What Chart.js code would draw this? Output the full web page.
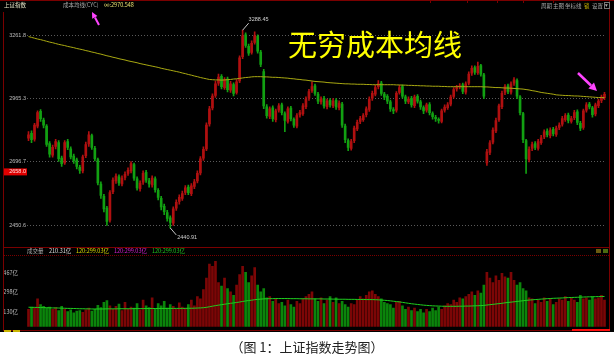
<!DOCTYPE html>
<html>
<head>
<meta charset="utf-8">
<script src="https://cdn.jsdelivr.net/npm/chart.js@4.4.1/dist/chart.umd.min.js"></script>
<style>
html, body { margin: 0; padding: 0; background: #fff; }
#wrap { position: relative; width: 614px; height: 360px; background: #fff; overflow: hidden; font-family: "Noto Sans CJK SC", "DejaVu Sans", sans-serif; }
#panel { position: absolute; left: 0; top: 0; width: 614px; height: 332px; background: #000; }
canvas { position: absolute; left: 0; }
.t { position: absolute; font-size: 5.5px; line-height: 6px; white-space: nowrap; }
.ln { position: absolute; background: #7a0000; }
</style>
</head>
<body>
<div id="wrap">
  <div id="panel">
    <canvas id="price" width="614" height="232" style="top:13px"></canvas>
    <canvas id="vol" width="614" height="75" style="top:256px"></canvas>

    <!-- frame -->
    <div class="ln" style="left:0;top:0;width:614px;height:1px"></div>
    <div class="ln" style="left:430px;top:0;width:1px;height:3px"></div>
    <div class="ln" style="left:467px;top:0;width:1px;height:3px"></div>
    <div class="ln" style="left:497px;top:0;width:1px;height:3px"></div>
    <div class="ln" style="left:523px;top:0;width:1px;height:3px"></div>
    <div class="ln" style="left:553px;top:0;width:1px;height:3px"></div>
    <div class="ln" style="left:3px;top:12px;width:1px;height:319px"></div>
    <div class="ln" style="left:609px;top:0;width:1px;height:331px"></div>
    <div class="ln" style="left:3px;top:247px;width:606px;height:1px"></div>
    <div style="position:absolute;left:3px;top:255px;width:606px;border-top:1px dotted #7a0000"></div>
    <div class="ln" style="left:3px;top:330px;width:606px;height:1px"></div>
    <div style="position:absolute;left:572px;top:329px;width:38px;height:2px;background:#ff1010"></div>
    <div style="position:absolute;left:4px;top:330px;width:7px;height:2px;background:#c8b400"></div>
    <div style="position:absolute;left:13px;top:330px;width:7px;height:2px;background:#c8b400"></div>

    <!-- header texts -->
    <div class="t" style="left:4px;top:2px;color:#e6e6c8">上证指数</div>
    <div class="t" style="left:63px;top:2px;color:#aaa">成本均线(CYC)</div>
    <div class="t" style="left:104px;top:2px;color:#e8e070">∞:2970.548</div>
    <div class="t" style="left:541px;top:3px;color:#aaa">周期</div>
    <div class="t" style="left:553px;top:3px;color:#aaa">主图</div>
    <div class="t" style="left:565px;top:3px;color:#aaa">坐标线</div>
    <div class="t" style="left:584px;top:3px;color:#c8b400">锁</div>
    <div class="t" style="left:592px;top:3px;color:#aaa">设置</div>
    <div class="t" style="left:604px;top:2px;width:4px;height:5px;border:1px solid #777;color:#aaa;line-height:5px">▾</div>

    <div style="position:absolute;left:288px;top:29px;font-size:29px;line-height:29px;color:#ffff00;white-space:nowrap">无穷成本均线</div>

    <!-- volume header -->
    <div class="t" style="left:27px;top:248px;color:#aaa">成交量</div>
    <div class="t" style="left:49px;top:248px;color:#ddd">210.31亿</div>
    <div class="t" style="left:76px;top:248px;color:#d8d800">120:299.03亿</div>
    <div class="t" style="left:114px;top:248px;color:#d020d0">120:299.03亿</div>
    <div class="t" style="left:152px;top:248px;color:#20c020">120:299.03亿</div>
    <div style="position:absolute;left:596px;top:249px;width:5px;height:4px;background:#6a5a10"></div>
    <div style="position:absolute;left:603px;top:249px;width:5px;height:4px;background:#4a6a10"></div>

    <!-- arrows -->
    <svg width="614" height="332" style="position:absolute;left:0;top:0">
      <line x1="99" y1="25" x2="95" y2="17.5" stroke="#ff44ff" stroke-width="2"/>
      <polygon points="92,12 97.4,15.9 92.2,18.7" fill="#ff44ff"/>
      <line x1="578" y1="73" x2="591" y2="85.5" stroke="#ff44ff" stroke-width="2.5"/>
      <polygon points="597,91 588.4,88.4 594,82.6" fill="#ff44ff"/>
    </svg>
  </div>
  <div style="position:absolute;left:0;top:339px;width:614px;text-align:center;font-size:13px;line-height:16px;color:#222">（图 1：上证指数走势图）</div>
</div>

<script>
const open = [
  2795, 2815, 2790, 2846, 2910, 2872, 2846, 2772, 2724, 2760, 2776, 2712,
  2692, 2780, 2750, 2720, 2705, 2674, 2660, 2722, 2770, 2805, 2752, 2706,
  2608, 2560, 2515, 2470, 2578, 2620, 2636, 2608, 2634, 2650, 2660, 2685,
  2628, 2590, 2615, 2654, 2620, 2604, 2628, 2583, 2552, 2522, 2498, 2478,
  2458, 2515, 2540, 2552, 2575, 2596, 2570, 2598, 2620, 2652, 2712, 2750,
  2855, 2925, 2980, 3036, 3068, 3016, 3055, 3004, 3030, 2994, 3046, 3160,
  3265, 3210, 3180, 3228, 3258, 3182, 3090, 2930, 2888, 2925, 2874, 2915,
  2938, 2900, 2866, 2924, 2875, 2846, 2894, 2900, 2930, 2968, 3002, 3024,
  2986, 2952, 2968, 2930, 2958, 2935, 2958, 2926, 2942, 2846, 2784, 2752,
  2784, 2834, 2866, 2874, 2895, 2918, 2968, 2986, 3020, 3036, 2986, 2976,
  2952, 2918, 2915, 2994, 3020, 2974, 2952, 2968, 2935, 2976, 2952, 2926,
  2915, 2940, 2900, 2884, 2875, 2866, 2915, 2926, 2942, 2976, 3010, 3020,
  3028, 2995, 3036, 3082, 3108, 3084, 3118, 3075, 2692, 2735, 2778, 2825,
  2874, 2930, 2994, 3024, 2995, 3036, 3048, 2974, 2900, 2784, 2705, 2752,
  2772, 2752, 2776, 2800, 2825, 2805, 2832, 2810, 2840, 2854, 2874, 2894,
  2866, 2882, 2908, 2858, 2840, 2915, 2942, 2925, 2898, 2935, 2958, 2970
]
const close = [
  2809, 2788, 2850, 2904, 2878, 2850, 2768, 2728, 2756, 2780, 2709, 2689,
  2776, 2756, 2717, 2701, 2678, 2662, 2717, 2768, 2809, 2756, 2709, 2612,
  2563, 2512, 2465, 2574, 2623, 2639, 2612, 2631, 2646, 2662, 2689, 2631,
  2593, 2612, 2650, 2623, 2608, 2631, 2586, 2556, 2519, 2501, 2476, 2461,
  2512, 2537, 2556, 2571, 2593, 2574, 2601, 2616, 2650, 2709, 2748, 2850,
  2921, 2977, 3033, 3064, 3020, 3051, 3007, 3033, 2990, 3042, 3154, 3261,
  3214, 3177, 3224, 3261, 3186, 3123, 2934, 2891, 2921, 2878, 2912, 2934,
  2904, 2870, 2921, 2878, 2850, 2891, 2904, 2934, 2964, 2998, 3020, 2990,
  2955, 2964, 2934, 2955, 2938, 2955, 2929, 2946, 2850, 2788, 2756, 2780,
  2837, 2862, 2878, 2891, 2921, 2964, 2990, 3016, 3033, 2990, 2973, 2955,
  2921, 2912, 2990, 3016, 2977, 2955, 2964, 2938, 2973, 2955, 2929, 2912,
  2938, 2904, 2887, 2878, 2870, 2912, 2929, 2938, 2973, 3007, 3016, 3024,
  2998, 3033, 3078, 3105, 3087, 3114, 3078, 2977, 2738, 2775, 2829, 2870,
  2934, 2990, 3020, 2998, 3033, 3051, 2977, 2904, 2788, 2709, 2748, 2768,
  2756, 2780, 2796, 2821, 2809, 2829, 2813, 2837, 2850, 2878, 2891, 2870,
  2878, 2904, 2862, 2837, 2912, 2938, 2929, 2895, 2938, 2955, 2973, 2985
]
const high = [
  2822, 2826, 2858, 2912, 2918, 2880, 2852, 2780, 2766, 2790, 2784, 2720,
  2784, 2790, 2758, 2728, 2712, 2682, 2724, 2778, 2822, 2812, 2760, 2712,
  2616, 2568, 2522, 2582, 2632, 2648, 2644, 2640, 2656, 2672, 2698, 2692,
  2636, 2620, 2660, 2662, 2630, 2640, 2636, 2590, 2560, 2530, 2506, 2486,
  2520, 2546, 2566, 2580, 2602, 2604, 2610, 2626, 2660, 2718, 2758, 2860,
  2932, 2988, 3046, 3078, 3076, 3062, 3064, 3044, 3038, 3052, 3164, 3288.45,
  3276, 3220, 3236, 3280, 3266, 3190, 3100, 2940, 2930, 2934, 2920, 2944,
  2946, 2908, 2930, 2932, 2882, 2900, 2914, 2944, 2974, 3008, 3042, 3032,
  2994, 2974, 2976, 2964, 2966, 2966, 2966, 2956, 2950, 2854, 2792, 2790,
  2846, 2872, 2888, 2900, 2930, 2974, 3000, 3026, 3048, 3044, 2994, 2984,
  2960, 2926, 2998, 3026, 3028, 2982, 2974, 2976, 2982, 2984, 2960, 2934,
  2946, 2948, 2908, 2892, 2882, 2920, 2938, 2948, 2982, 3016, 3026, 3034,
  3036, 3042, 3088, 3116, 3116, 3134, 3124, 3082, 2748, 2784, 2838, 2880,
  2942, 3000, 3030, 3032, 3042, 3062, 3056, 2980, 2906, 2790, 2758, 2778,
  2780, 2790, 2806, 2830, 2834, 2838, 2840, 2846, 2860, 2888, 2900, 2902,
  2888, 2914, 2916, 2866, 2920, 2948, 2950, 2932, 2946, 2964, 2982, 2994
]
const low = [
  2784, 2776, 2782, 2838, 2866, 2838, 2760, 2716, 2716, 2750, 2698, 2678,
  2686, 2746, 2708, 2690, 2668, 2650, 2652, 2714, 2760, 2748, 2700, 2604,
  2552, 2500, 2450, 2462, 2570, 2610, 2602, 2600, 2624, 2642, 2652, 2622,
  2584, 2580, 2606, 2614, 2596, 2596, 2576, 2546, 2508, 2490, 2466, 2440.91,
  2450, 2506, 2530, 2544, 2566, 2566, 2562, 2590, 2612, 2644, 2702, 2742,
  2846, 2916, 2972, 3026, 3010, 3008, 2996, 2994, 2978, 2986, 3038, 3150,
  3204, 3166, 3172, 3220, 3176, 3112, 2922, 2880, 2878, 2866, 2864, 2906,
  2894, 2822, 2858, 2868, 2840, 2838, 2884, 2892, 2922, 2958, 2994, 2980,
  2944, 2942, 2924, 2920, 2928, 2926, 2918, 2916, 2840, 2776, 2742, 2744,
  2776, 2826, 2856, 2866, 2886, 2910, 2958, 2978, 3010, 2980, 2962, 2944,
  2910, 2900, 2906, 2986, 2968, 2944, 2944, 2928, 2926, 2946, 2918, 2900,
  2906, 2894, 2876, 2866, 2858, 2860, 2906, 2918, 2934, 2968, 3000, 3010,
  2988, 2986, 3028, 3072, 3076, 3076, 3068, 2966, 2682, 2726, 2770, 2818,
  2866, 2922, 2984, 2988, 2986, 3026, 2966, 2894, 2776, 2650, 2696, 2742,
  2746, 2744, 2768, 2792, 2800, 2796, 2804, 2802, 2830, 2846, 2866, 2860,
  2858, 2874, 2852, 2826, 2832, 2906, 2920, 2884, 2890, 2926, 2948, 2962
]
// 无穷成本均线 (CYC)
const costLine = [
  3257, 3253, 3249, 3245, 3242, 3238, 3234, 3230, 3227, 3223,
  3219, 3216, 3213, 3209, 3206, 3203, 3199, 3196, 3193, 3189,
  3186, 3182, 3179, 3175, 3172, 3168, 3164, 3161, 3157, 3154,
  3150, 3147, 3144, 3140, 3137, 3134, 3131, 3127, 3124, 3121,
  3118, 3115, 3112, 3109, 3105, 3102, 3099, 3096, 3093, 3090,
  3087, 3083, 3080, 3076, 3073, 3069, 3066, 3062, 3059, 3056,
  3053, 3052, 3051, 3051, 3050, 3051, 3052, 3053, 3055, 3056,
  3058, 3060, 3062, 3063, 3065, 3066, 3066, 3066, 3065, 3065,
  3064, 3063, 3063, 3062, 3061, 3060, 3059, 3057, 3056, 3054,
  3053, 3051, 3050, 3048, 3046, 3044, 3043, 3042, 3041, 3039,
  3038, 3037, 3036, 3035, 3034, 3033, 3033, 3032, 3032, 3031,
  3031, 3031, 3030, 3030, 3029, 3029, 3029, 3029, 3029, 3029,
  3029, 3029, 3028, 3028, 3027, 3027, 3026, 3026, 3025, 3025,
  3024, 3024, 3023, 3023, 3022, 3022, 3022, 3021, 3021, 3020,
  3020, 3020, 3020, 3020, 3020, 3020, 3020, 3020, 3020, 3020,
  3020, 3019, 3019, 3018, 3017, 3016, 3016, 3015, 3014, 3014,
  3013, 3012, 3011, 3010, 3009, 3007, 3005, 3002, 3000, 2997,
  2994, 2992, 2990, 2988, 2986, 2983, 2982, 2981, 2980, 2980,
  2979, 2978, 2978, 2977, 2976, 2975, 2974, 2973, 2972, 2971,
  2971, 2970.548
]
// 成交量 (亿)
const volume = [
  150, 170, 165, 240, 190, 175, 160, 170, 150, 165, 140, 175,
  150, 130, 145, 120, 135, 140, 125, 145, 160, 135, 150, 185,
  165, 210, 225, 180, 150, 175, 195, 140, 210, 150, 170, 160,
  200, 145, 230, 180, 165, 250, 150, 200, 180, 220, 160, 190,
  175, 150, 205, 170, 160, 190, 230, 180, 260, 240, 320, 420,
  540, 520, 565, 380, 350, 420, 330, 300, 270, 360, 450, 520,
  470, 380, 440, 510, 360, 300, 330, 250, 260, 220, 240, 200,
  210, 180, 230, 190, 170, 220, 200, 240, 260, 280, 300, 240,
  220, 250, 200, 230, 260, 210, 250, 200, 220, 190, 170, 200,
  190, 230, 260, 240, 270, 300, 310, 280, 260, 240, 210, 200,
  190, 160, 210, 220, 180, 150, 170, 140, 160, 130, 150, 120,
  150, 130, 160, 140, 170, 150, 180, 200, 190, 230, 210, 250,
  240, 260, 280, 300, 270, 310, 290, 360, 470, 420, 380, 440,
  400, 460, 430, 420, 470, 400, 360, 380, 330, 310, 250, 240,
  200, 230, 210, 250, 220, 240, 190, 210, 240, 230, 260, 220,
  250, 230, 210, 270, 240, 250, 230, 260, 240, 250, 270, 230
]
const volumeAvg = [
  168, 167, 167, 166, 165, 165, 164, 163, 162, 162, 161, 160,
  159, 158, 158, 157, 156, 155, 155, 154, 154, 153, 153, 153,
  153, 153, 154, 154, 154, 154, 155, 155, 155, 155, 155, 156,
  156, 156, 156, 157, 157, 157, 157, 157, 158, 158, 158, 158,
  158, 158, 158, 158, 158, 159, 159, 160, 161, 162, 164, 167,
  172, 177, 182, 186, 190, 194, 198, 202, 205, 209, 213, 218,
  222, 226, 229, 233, 236, 238, 240, 241, 242, 242, 243, 243,
  243, 243, 243, 242, 242, 242, 241, 241, 241, 240, 240, 240,
  240, 240, 239, 239, 239, 238, 238, 237, 237, 237, 236, 236,
  236, 235, 235, 235, 234, 234, 234, 233, 232, 230, 228, 226,
  223, 220, 217, 214, 210, 206, 202, 198, 195, 192, 189, 186,
  184, 182, 180, 179, 178, 177, 176, 176, 176, 176, 176, 177,
  177, 178, 178, 179, 180, 181, 182, 184, 187, 190, 193, 196,
  199, 202, 206, 209, 212, 215, 218, 221, 224, 227, 230, 232,
  234, 236, 238, 240, 242, 243, 245, 246, 247, 248, 250, 251,
  252, 253, 254, 255, 256, 257, 258, 258, 259, 260, 260, 261
]
const priceTicks = [2450.6, 2696.7, 2965.3, 3261.8]
const volumeTicks = [130, 298, 467]
const markPrice = 2658.0

const days = Array.from({ length: close.length }, (_, i) => i + 1)
const candleColor = close.map((c, i) => c >= open[i] ? '#b01010' : '#12a012')
const volumeColor = close.map((c, i) => c >= open[i] ? '#7c0606' : '#0b850b')

// 最高/最低价标注 + 左侧红色价格标签
const marks = {
  id: 'marks',
  afterDraw(chart) {
    const { ctx, scales: { x, y } } = chart
    const hi = high.indexOf(Math.max(...high))
    const lo = low.indexOf(Math.min(...low))
    ctx.save()
    ctx.strokeStyle = '#c8c8c8'
    ctx.fillStyle = '#d0d0d0'
    ctx.lineWidth = 1
    ctx.font = '5.5px "Liberation Sans"'
    ctx.textBaseline = 'middle'
    let px = x.getPixelForValue(hi), py = y.getPixelForValue(high[hi])
    ctx.beginPath(); ctx.moveTo(px, py); ctx.lineTo(px + 6, py - 7); ctx.stroke()
    ctx.fillText(high[hi].toFixed(2), px + 6, py - 11)
    px = x.getPixelForValue(lo); py = y.getPixelForValue(low[lo])
    ctx.beginPath(); ctx.moveTo(px, py); ctx.lineTo(px + 6, py + 7); ctx.stroke()
    ctx.fillText(low[lo].toFixed(2), px + 7, py + 10)
    const ty = y.getPixelForValue(markPrice)
    ctx.fillStyle = '#e00000'
    ctx.fillRect(3, ty - 3, 24, 7)
    ctx.fillStyle = '#ffe0e0'
    ctx.textAlign = 'right'
    ctx.fillText(markPrice.toFixed(1), 26, ty + 0.5)
    ctx.restore()
  }
}

const tickFont = { size: 5.5, family: 'Liberation Sans' }

new Chart(document.getElementById('price'), {
  type: 'bar',
  data: {
    labels: days,
    datasets: [
      { type: 'line', data: costLine, borderColor: '#a9a911', borderWidth: 1, pointRadius: 0, tension: 0 },
      { data: close.map((c, i) => [open[i], c]), backgroundColor: candleColor, barThickness: 2, grouped: false },
      { data: low.map((l, i) => [l, high[i]]), backgroundColor: candleColor, barThickness: 1, grouped: false }
    ]
  },
  options: {
    responsive: false,
    animation: false,
    events: [],
    layout: { padding: { left: 0, right: 8, top: 0, bottom: 0 } },
    plugins: { legend: { display: false }, tooltip: { enabled: false } },
    scales: {
      x: { display: false, offset: true },
      y: {
        type: 'logarithmic',
        min: 2394.3,
        max: 3353,
        bounds: 'data',
        afterFit: s => { s.width = 27 },
        afterBuildTicks: s => { s.ticks = priceTicks.map(v => ({ value: v })) },
        ticks: { color: '#bbb', font: tickFont, padding: 1, callback: v => v.toFixed(1) },
        grid: { color: '#5a5a5a', drawTicks: false },
        border: { display: false, dash: [1, 2] }
      }
    }
  },
  plugins: [marks]
})

new Chart(document.getElementById('vol'), {
  type: 'bar',
  data: {
    labels: days,
    datasets: [
      { type: 'line', data: volumeAvg, borderColor: '#1fd01f', borderWidth: 1, pointRadius: 0, tension: 0 },
      { data: volume, backgroundColor: volumeColor, barThickness: 2 }
    ]
  },
  options: {
    responsive: false,
    animation: false,
    events: [],
    layout: { padding: { left: 0, right: 8, top: 0, bottom: 0 } },
    plugins: { legend: { display: false }, tooltip: { enabled: false } },
    scales: {
      x: { display: false, offset: true },
      y: {
        min: 0,
        max: 573,
        afterFit: s => { s.width = 27 },
        afterBuildTicks: s => { s.ticks = volumeTicks.map(v => ({ value: v })) },
        ticks: { color: '#bbb', font: { size: 5.5, family: 'Noto Sans CJK SC' }, padding: 1, callback: v => v + '亿' },
        grid: { display: false },
        border: { display: false }
      }
    }
  }
})
</script>
</body>
</html>
